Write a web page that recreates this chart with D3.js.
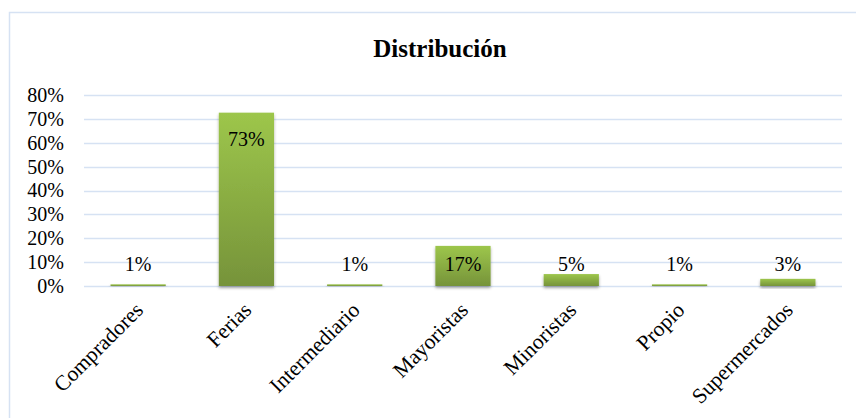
<!DOCTYPE html>
<html>
<head>
<meta charset="utf-8">
<title>Distribución</title>
<script src="https://d3js.org/d3.v7.min.js"></script>
<style>
  body { margin: 0; background: #fff; }
  svg text { font-family: "Liberation Serif", "Times New Roman", Times, serif; fill: #000; }
</style>
</head>
<body>
<svg id="chart"></svg>
<script>
    // Data
    var categories = ["Compradores", "Ferias", "Intermediario", "Mayoristas", "Minoristas", "Propio", "Supermercados"];
    var shares = [0.007, 0.726, 0.007, 0.168, 0.05, 0.007, 0.03];
    var labels = ["1%", "73%", "1%", "17%", "5%", "1%", "3%"];
    var tickValues = [0, 0.1, 0.2, 0.3, 0.4, 0.5, 0.6, 0.7, 0.8];

    var width = 856, height = 418;
    var margin = { left: 84, right: 14, top: 95, bottom: 132 };
    var serif = "'Liberation Serif', 'Times New Roman', Times, serif";

    var svg = d3.select("#chart")
        .attr("width", width)
        .attr("height", height);

    // gradient + shadow for the bars
    var defs = svg.append("defs");
    var grad = defs.append("linearGradient")
        .attr("id", "barGrad")
        .attr("x1", 0).attr("y1", 0).attr("x2", 0).attr("y2", 1);
    grad.append("stop").attr("offset", "0%").attr("stop-color", "#9dc64b");
    grad.append("stop").attr("offset", "100%").attr("stop-color", "#76933a");

    defs.append("filter")
        .attr("id", "shadow")
        .attr("x", "-20%").attr("y", "-20%").attr("width", "140%").attr("height", "160%")
        .append("feDropShadow")
        .attr("dx", 0).attr("dy", 2).attr("stdDeviation", 1.5)
        .attr("flood-color", "#000").attr("flood-opacity", 0.35);

    svg.append("rect")
        .attr("width", width).attr("height", height)
        .attr("fill", "#fff");

    // chart border (runs off the right and bottom of the picture)
    svg.append("rect")
        .attr("x", 9.5).attr("y", 12.5)
        .attr("width", 900).attr("height", 500)
        .attr("fill", "none")
        .attr("stroke", "#d6e2f3")
        .attr("stroke-width", 1.5);

    svg.append("text")
        .attr("x", 440).attr("y", 57)
        .attr("text-anchor", "middle")
        .style("font-family", serif)
        .style("font-size", "25px")
        .style("font-weight", "bold")
        .text("Distribución");

    var x = d3.scaleBand()
        .domain(categories)
        .range([margin.left, width - margin.right])
        .paddingInner(0.49)
        .paddingOuter(0.245);

    var y = d3.scaleLinear()
        .domain([0, 0.8])
        .range([286, margin.top]);

    // gridlines
    svg.append("g")
        .selectAll("line")
        .data(tickValues)
        .join("line")
        .attr("x1", margin.left).attr("x2", width - margin.right)
        .attr("y1", function (d) { return Math.round(y(d)) + 0.5; })
        .attr("y2", function (d) { return Math.round(y(d)) + 0.5; })
        .attr("stroke", "#d6e2f3")
        .attr("stroke-width", 1.5);

    // y axis labels
    var yAxis = d3.axisLeft(y)
        .tickValues(tickValues)
        .tickFormat(d3.format(".0%"))
        .tickSize(0)
        .tickPadding(0);

    var ya = svg.append("g")
        .attr("transform", "translate(64,0)")
        .call(yAxis)
        .attr("font-family", null)
        .attr("font-size", null);
    ya.select(".domain").remove();
    ya.selectAll("text")
        .attr("fill", "#000")
        .style("font-size", "20px")
        .style("font-family", serif);

    // bars
    var data = categories.map(function (c, i) { return { cat: c, v: shares[i], label: labels[i] }; });

    svg.append("g")
        .selectAll("rect")
        .data(data)
        .join("rect")
        .attr("x", function (d) { return x(d.cat); })
        .attr("y", function (d) { return y(d.v); })
        .attr("width", x.bandwidth())
        .attr("height", function (d) { return y(0) - y(d.v); })
        .attr("fill", "url(#barGrad)")
        .attr("filter", "url(#shadow)");

    // value labels
    svg.append("g")
        .selectAll("text")
        .data(data)
        .join("text")
        .attr("x", function (d) { return x(d.cat) + x.bandwidth() / 2; })
        .attr("y", function (d) { return d.v > 0.5 ? y(d.v) + 26 : y(0.1) + 2; })
        .attr("dy", "0.35em")
        .attr("text-anchor", "middle")
        .style("font-family", serif)
        .style("font-size", "20px")
        .text(function (d) { return d.label; });

    // category labels, rotated
    svg.append("g")
        .selectAll("text")
        .data(categories)
        .join("text")
        .attr("transform", function (d) {
            return "translate(" + (x(d) + x.bandwidth() / 2 + 1) + ",306)rotate(-45)";
        })
        .attr("dy", "0.35em")
        .attr("text-anchor", "end")
        .style("font-family", serif)
        .style("font-size", "21.5px")
        .text(function (d) { return d; });
</script>
</body>
</html>
